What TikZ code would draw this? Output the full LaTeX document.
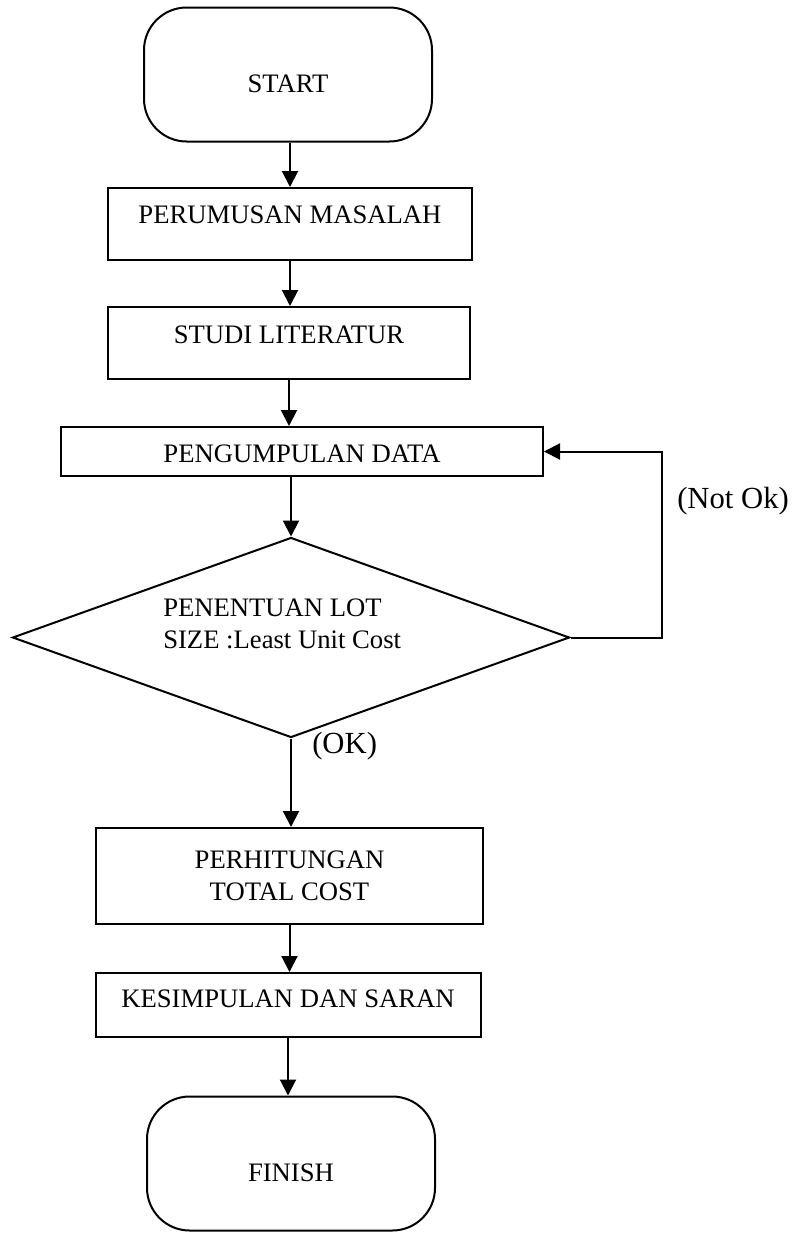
\documentclass[tikz,border=0pt]{standalone}
\usepackage{fontspec}
\setmainfont{Liberation Serif}
\usetikzlibrary{arrows.meta,shapes.geometric}
\begin{document}
\begin{tikzpicture}[x=0.75pt,y=-0.75pt,
  ln/.style={line width=1.5pt, line join=miter},
  arr/.style={ln, -{Triangle[width=12pt,length=12pt]}},
  txt/.style={font=\fontsize{20pt}{24pt}\selectfont},
  box/.style={draw, ln, rectangle, inner sep=0pt, txt, align=center},
  term/.style={draw, ln, rectangle, rounded corners=32pt, inner sep=0pt,
    minimum width=216pt, minimum height=100.5pt, txt,
    text height=27.5pt, text depth=0pt},
  lbl/.style={inner sep=0pt, font=\fontsize{23pt}{27pt}\selectfont}]
\useasboundingbox (0,0) rectangle (800,1233);

\node[term] (start) at (288,74.5) {START};

\node[box, minimum width=273pt, minimum height=54pt, text height=13.2pt, text depth=14.7pt]
  (p1) at (290,224) {PERUMUSAN MASALAH};
\node[box, minimum width=271.5pt, minimum height=54pt, text height=13.2pt, text depth=13.2pt]
  (p2) at (289,343) {STUDI LITERATUR};
\node[box, minimum width=361.5pt, minimum height=36.75pt, text height=15.75pt, text depth=0pt]
  (p3) at (302,451.5) {PENGUMPULAN DATA};
\node[draw, ln, diamond, aspect=2.8, inner sep=0pt, minimum width=417.75pt, minimum height=150pt]
  (dec) at (291,637.5) {};
\node[anchor=north west, inner sep=0pt, txt, align=left]
  (dectext) at (163,598.5) {PENENTUAN LOT\\SIZE :Least Unit Cost};
\node[box, minimum width=290.25pt, minimum height=72pt]
  (p4) at (289.5,876) {PERHITUNGAN\\TOTAL COST};
\node[box, minimum width=288.75pt, minimum height=48pt, text height=13.2pt, text depth=10.2pt]
  (p5) at (288,1005) {KESIMPULAN DAN SARAN};
\node[term] (finish) at (291,1163.5) {FINISH};

\draw[arr] (start.south -| p1.north) -- (p1.north);
\draw[arr] (p1.south) -- (p1.south |- p2.north);
\draw[arr] (p2.south) -- (p2.south |- p3.north);
\draw[arr] (dec.north |- p3.south) -- (dec.north);
\draw[arr] (dec.south) -- (dec.south |- p4.north);
\draw[arr] (p4.south) -- (p4.south |- p5.north);
\draw[arr] (p5.south) -- (p5.south |- finish.north);

\coordinate (fb) at (662,643);
\draw[arr] (dec.east) -- (dec.east -| fb) |- (p3.east);

\node[lbl, anchor=west] (notok) at (677,501) {(Not Ok)};
\node[lbl, anchor=west] (ok) at (312,746) {(OK)};
\end{tikzpicture}
\end{document}
